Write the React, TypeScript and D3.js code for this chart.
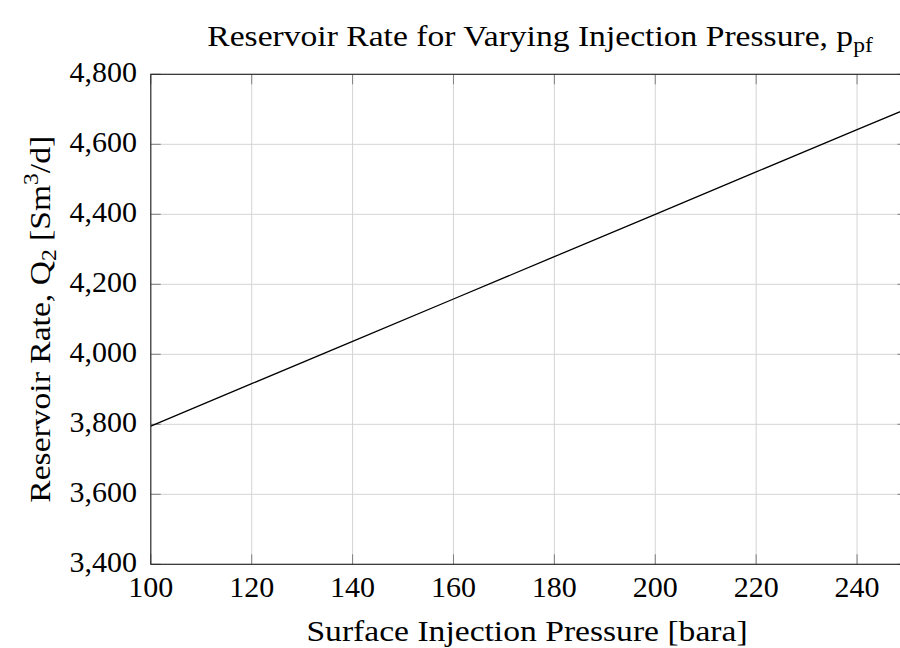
import React from "react";
import * as d3 from "d3";

const pressures = [100, 120, 140, 160, 180, 200, 220, 240, 250];
const rates = [3795, 3916, 4037, 4158, 4279, 4400, 4521, 4642, 4702];
const xTicks = [100, 120, 140, 160, 180, 200, 220, 240];
const yTicks = [3400, 3600, 3800, 4000, 4200, 4400, 4600, 4800];
const titleText = "Reservoir Rate for Varying Injection Pressure, p";
const titleSub = "pf";
const xLabel = "Surface Injection Pressure [bara]";

const W = 900;
const H = 648;
const left = 150.8;
const right = 907.5;
const top = 74.3;
const bottom = 564.3;
const FONT = '"Liberation Serif"';

export default function App() {
  const x = d3.scaleLinear().domain([100, 250]).range([left, right]);
  const y = d3.scaleLinear().domain([3400, 4800]).range([bottom, top]);
  const fmt = d3.format(",");
  const data = pressures.map((p, i) => ({ p, q: rates[i] }));
  const line = d3
    .line<{ p: number; q: number }>()
    .x((d) => x(d.p))
    .y((d) => y(d.q));
  const tickLen = 10;
  const txt = { fontFamily: FONT };
  return (
    <svg width={W} height={H} style={{ position: "absolute", left: 0, top: 0, background: "#fff" }}>
      <defs>
        <clipPath id="plotclip">
          <rect x={left} y={top} width={right - left} height={bottom - top} />
        </clipPath>
      </defs>
      {xTicks.map((t) => (
        <line key={"gx" + t} x1={x(t)} x2={x(t)} y1={top} y2={bottom} stroke="#d4d4d4" strokeWidth={1} />
      ))}
      {yTicks.map((t) => (
        <line key={"gy" + t} x1={left} x2={right} y1={y(t)} y2={y(t)} stroke="#d4d4d4" strokeWidth={1} />
      ))}
      {xTicks.map((t) => (
        <g key={"tx" + t}>
          <line x1={x(t)} x2={x(t)} y1={bottom} y2={bottom - tickLen} stroke="#808080" strokeWidth={1} />
          <line x1={x(t)} x2={x(t)} y1={top} y2={top + tickLen} stroke="#808080" strokeWidth={1} />
        </g>
      ))}
      {yTicks.map((t) => (
        <g key={"ty" + t}>
          <line x1={left} x2={left + tickLen} y1={y(t)} y2={y(t)} stroke="#808080" strokeWidth={1} />
          <line x1={right} x2={right - tickLen} y1={y(t)} y2={y(t)} stroke="#808080" strokeWidth={1} />
        </g>
      ))}
      <path d={line(data) || ""} fill="none" stroke="#000" strokeWidth={1.3} clipPath="url(#plotclip)" />
      <rect x={left} y={top} width={right - left} height={bottom - top} fill="none" stroke="#222" strokeWidth={1.1} />
      {xTicks.map((t) => (
        <text key={"lx" + t} x={x(t)} y={597} textAnchor="middle" fontSize={30} fill="#000" style={txt}>
          {fmt(t)}
        </text>
      ))}
      {yTicks.map((t) => (
        <text key={"ly" + t} x={137} y={y(t) + 7.5} textAnchor="end" fontSize={30} fill="#000" style={txt}>
          {fmt(t)}
        </text>
      ))}
      <g transform={`translate(527,641) scale(1.12,1)`}>
        <text x={0} y={0} textAnchor="middle" fontSize={30} fill="#000" style={txt}>
          {xLabel}
        </text>
      </g>
      <g transform={`translate(50,${(top + bottom) / 2}) rotate(-90) scale(1.12,1)`}>
        <text x={0} y={0} textAnchor="middle" fontSize={30} fill="#000" style={txt}>
          Reservoir Rate, Q
          <tspan dy={6} fontSize={21}>2</tspan>
          <tspan dy={-6}> [Sm</tspan>
          <tspan dy={-12} fontSize={21}>3</tspan>
          <tspan dy={12}>/d]</tspan>
        </text>
      </g>
      <g transform={`translate(540,46) scale(1.12,1)`}>
        <text x={0} y={0} textAnchor="middle" fontSize={30} fill="#000" style={txt}>
          {titleText}
          <tspan dy={6} fontSize={21}>{titleSub}</tspan>
        </text>
      </g>
    </svg>
  );
}
